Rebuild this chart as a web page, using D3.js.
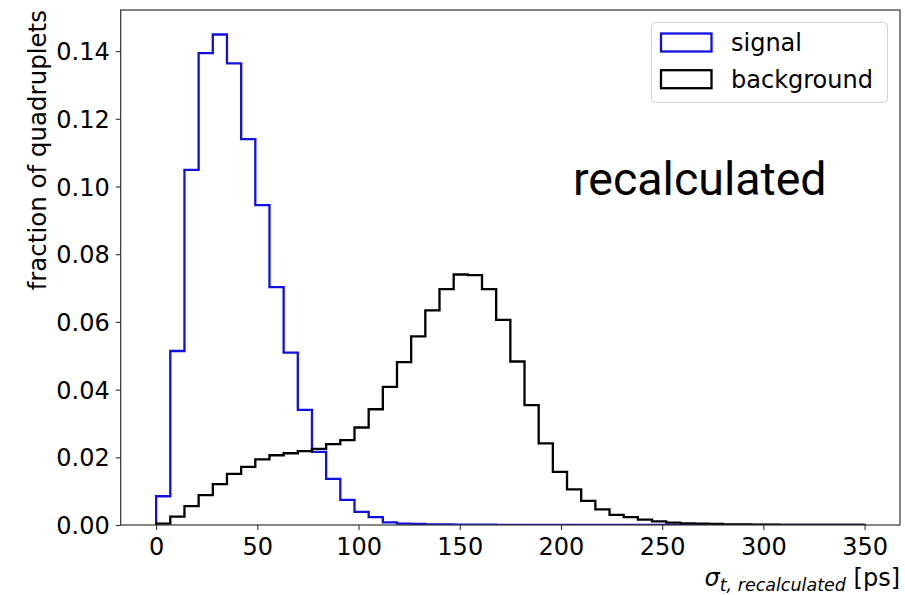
<!DOCTYPE html>
<html>
<head>
<meta charset="utf-8">
<script src="https://cdn.jsdelivr.net/npm/d3@7"></script>
<style>
  html, body { margin: 0; padding: 0; background: #fff; }
  svg { display: block; }
  text { font-family: "DejaVu Sans", sans-serif; fill: #000; }
</style>
</head>
<body>
<svg id="chart" width="905" height="595"></svg>
<script>
// ---- data ----
const binStart = 0;
const binWidth = 7;
const signalValues = [
  0.0085, 0.0514, 0.1049, 0.1394, 0.1449, 0.1364, 0.1140, 0.0945, 0.0703, 0.0509,
  0.0340, 0.0216, 0.0136, 0.0074, 0.0039, 0.0023, 0.0008, 0.0004, 0.0003, 0.0002,
  0.00015, 0.0001, 0.0001, 0.00008, 0.00006, 0.00005, 0.00004, 0.00003, 0.00003, 0.00002,
  0.00002, 0.00002, 0.00001, 0.00001, 0.00001, 0.00001, 0.00001, 0.00001, 0, 0,
  0, 0, 0, 0, 0, 0, 0, 0, 0, 0
];
const backgroundValues = [
  0.0004, 0.0025, 0.0056, 0.0088, 0.0121, 0.0151, 0.0172, 0.0194, 0.0206, 0.0212,
  0.0218, 0.0225, 0.0239, 0.0251, 0.0288, 0.0342, 0.0408, 0.0481, 0.0557, 0.0634,
  0.0697, 0.0740, 0.0738, 0.0697, 0.0606, 0.0483, 0.0354, 0.0241, 0.0157, 0.0105,
  0.0071, 0.0046, 0.0030, 0.0023, 0.0016, 0.0011, 0.0007, 0.0005, 0.0004, 0.0003,
  0.0002, 0.00015, 0.0001, 0.00008, 0.00006, 0.00005, 0.00004, 0.00003, 0.00002, 0.00002
];
const seriesNames = ["signal", "background"];
const seriesColors = ["#1010e0", "#000000"];
const xTicks = [0, 50, 100, 150, 200, 250, 300, 350];
const yTicks = [0.00, 0.02, 0.04, 0.06, 0.08, 0.10, 0.12, 0.14];
const xLabelMain = "σ";
const xLabelSub = "t, recalculated";
const xLabelUnit = " [ps]";
const yLabel = "fraction of quadruplets";
const annotation = "recalculated";

// ---- layout ----
const W = 905, H = 595;
const plot = { left: 120.7, right: 900, top: 10, bottom: 525 };

const svg = d3.select("#chart");

const xDataMin = binStart;
const xDataMax = binStart + binWidth * signalValues.length;
const xPad = (xDataMax - xDataMin) * 0.05;
const yMax = d3.max([...signalValues, ...backgroundValues]) * 1.05;

const x = d3.scaleLinear().domain([xDataMin - xPad, xDataMax + xPad]).range([plot.left, plot.right]);
const y = d3.scaleLinear().domain([0, yMax]).range([plot.bottom, plot.top]);

svg.append("defs").append("clipPath").attr("id", "clip")
  .append("rect")
  .attr("x", plot.left).attr("y", plot.top)
  .attr("width", plot.right - plot.left).attr("height", plot.bottom - plot.top);

function stepPoints(values) {
  const pts = [[binStart, 0]];
  values.forEach((v, i) => {
    const e0 = binStart + i * binWidth;
    const e1 = e0 + binWidth;
    pts.push([e0, v]);
    pts.push([e1, v]);
  });
  pts.push([binStart + values.length * binWidth, 0]);
  return pts;
}

const line = d3.line().x(d => x(d[0])).y(d => y(d[1]));

const gData = svg.append("g").attr("clip-path", "url(#clip)");
[signalValues, backgroundValues].forEach((vals, i) => {
  gData.append("path")
    .attr("d", line(stepPoints(vals)))
    .attr("fill", "none")
    .attr("stroke", seriesColors[i])
    .attr("stroke-width", 2.3)
    .attr("stroke-linejoin", "miter");
});

// ---- axes ----
const xAxis = d3.axisBottom(x).tickValues(xTicks).tickSize(5).tickPadding(8).tickFormat(d3.format("d"));
const yAxis = d3.axisLeft(y).tickValues(yTicks).tickSize(5).tickPadding(6).tickFormat(d3.format(".2f"));

const gx = svg.append("g").attr("transform", `translate(0,${plot.bottom})`).call(xAxis);
const gy = svg.append("g").attr("transform", `translate(${plot.left},0)`).call(yAxis);
[gx, gy].forEach(g => {
  g.select(".domain").remove();
  g.selectAll(".tick line").attr("stroke", "#333").attr("stroke-width", 1.1);
  g.selectAll(".tick text")
    .style("font-family", "DejaVu Sans, sans-serif")
    .style("font-size", "24px")
    .attr("fill", "#000");
});
gx.selectAll(".tick text").attr("dy", "0.71em");
gy.selectAll(".tick text").attr("dy", "0.36em");

// spines
svg.append("rect")
  .attr("x", plot.left).attr("y", plot.top)
  .attr("width", plot.right - plot.left).attr("height", plot.bottom - plot.top)
  .attr("fill", "none").attr("stroke", "#333").attr("stroke-width", 1.2);

// ---- labels ----
const xl = svg.append("text")
  .attr("x", plot.right).attr("y", 586)
  .attr("text-anchor", "end")
  .style("font-size", "24px");
xl.append("tspan").text(xLabelMain).style("font-style", "italic");
xl.append("tspan").text(xLabelSub).style("font-style", "italic").style("font-size", "17.5px").attr("dy", 5);
xl.append("tspan").text(xLabelUnit).attr("dy", -5);

svg.append("text")
  .attr("transform", `translate(46,${plot.top}) rotate(-90)`)
  .attr("text-anchor", "end")
  .style("font-size", "24.5px")
  .text(yLabel);

svg.append("text")
  .attr("x", 573).attr("y", 195)
  .style("font-family", "Roboto, sans-serif")
  .style("font-size", "46.5px")
  .text(annotation);

// ---- legend ----
const lg = svg.append("g");
lg.append("rect")
  .attr("x", 651.5).attr("y", 22.5).attr("width", 236).attr("height", 80)
  .attr("rx", 4).attr("ry", 4)
  .attr("fill", "rgba(255,255,255,0.8)").attr("stroke", "#d0d0d0").attr("stroke-width", 1);
seriesNames.forEach((name, i) => {
  const cy = 42.5 + i * 36.7;
  lg.append("rect")
    .attr("x", 661).attr("y", cy - 9).attr("width", 50.5).attr("height", 18)
    .attr("fill", "none").attr("stroke", seriesColors[i]).attr("stroke-width", 2.3);
  lg.append("text")
    .attr("x", 731).attr("y", cy + 8.5)
    .style("font-size", "24px")
    .text(name);
});
</script>
</body>
</html>
